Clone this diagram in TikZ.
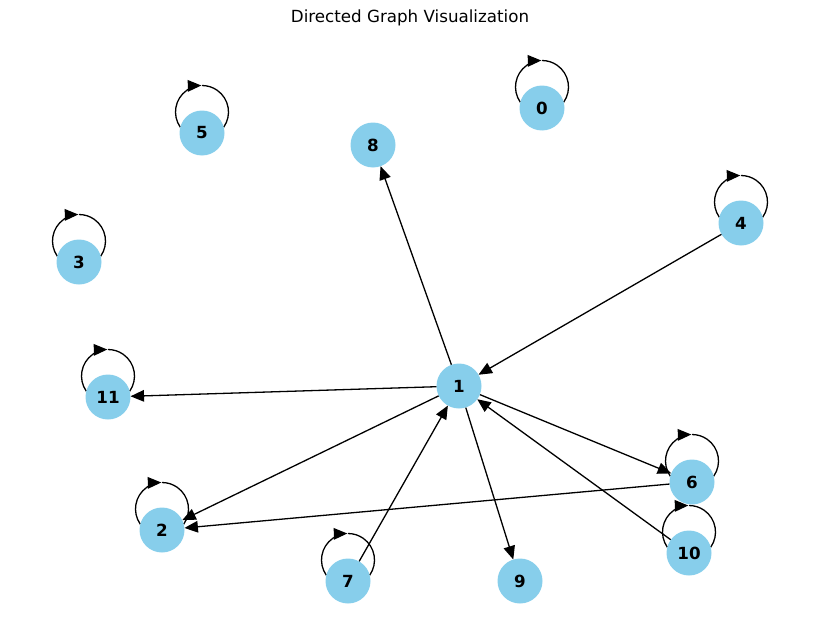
\documentclass[tikz,border=0pt]{standalone}
\usepackage{fontspec}
\setmainfont{DejaVu Sans}
\usetikzlibrary{arrows.meta}
\pgfdeclarelayer{background}
\pgfsetlayers{background,main}
\tikzset{
  gnode/.style={circle, fill=nodeblue, draw=none, minimum size=45pt, inner sep=0pt, outer sep=0pt,
    font=\fontsize{16.7}{20}\selectfont\bfseries},
  edge/.style={line width=1.3pt, -{Triangle[length=13.5pt,width=11.5pt]}},
  plain/.style={line width=1.3pt},
}
\definecolor{nodeblue}{HTML}{87CEEB}
\newcommand\myselfloop[1]{%
  \draw[plain] (#1.center) ++(21.7,-5.8) arc[start angle=35, end angle=-90, radius=26.5];
  \draw[edge] (#1.center) ++(-21.7,-5.8) arc[start angle=145, end angle=268.5, radius=26.5];
}
\begin{document}
\begin{tikzpicture}[x=1pt,y=-1pt]
\useasboundingbox (0,0) rectangle (819,642);
\node (title) at (410,18) {\fontsize{16.7}{20}\selectfont Directed Graph Visualization};
\node[gnode] (n0) at (542,108) {0};
\node[gnode] (n5) at (202,133) {5};
\node[gnode] (n8) at (373,145) {8};
\node[gnode] (n4) at (741,223) {4};
\node[gnode] (n3) at (79,262) {3};
\node[gnode] (n11) at (108,397) {11};
\node[gnode] (n1) at (459,386) {1};
\node[gnode] (n6) at (692,482) {6};
\node[gnode] (n2) at (162,530) {2};
\node[gnode] (n10) at (689,553) {10};
\node[gnode] (n7) at (348,581) {7};
\node[gnode] (n9) at (520,581) {9};
\begin{pgfonlayer}{background}
\draw[edge] (n1) -- (n8);
\draw[edge] (n4) -- (n1);
\draw[edge] (n1) -- (n11);
\draw[edge] (n1) -- (n2);
\draw[edge] (n1) -- (n6);
\draw[edge] (n1) -- (n9);
\draw[edge] (n7) -- (n1);
\draw[edge] (n10) -- (n1);
\draw[edge] (n6) -- (n2);
\myselfloop{n0}
\myselfloop{n5}
\myselfloop{n3}
\myselfloop{n11}
\myselfloop{n6}
\myselfloop{n2}
\myselfloop{n7}
\myselfloop{n10}
\myselfloop{n4}
\end{pgfonlayer}
\end{tikzpicture}
\end{document}
